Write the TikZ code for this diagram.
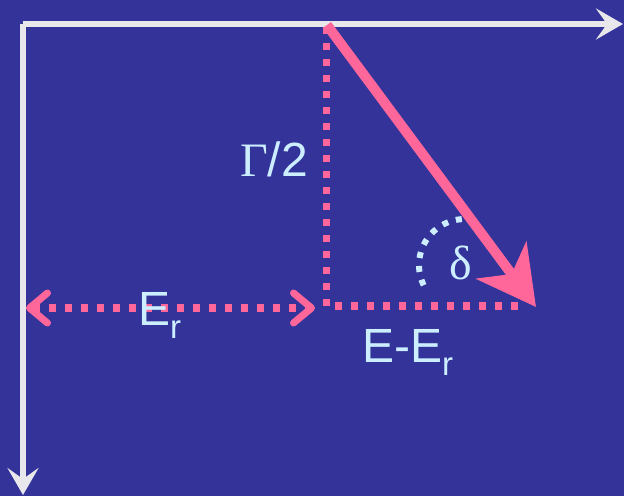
\documentclass[tikz,border=0pt]{standalone}
\usepackage{fontspec}
\setmainfont{Liberation Sans}
\newfontfamily\serifgr{Liberation Serif}
\usetikzlibrary{arrows.meta}
\definecolor{bgblue}{HTML}{333399}
\definecolor{pinkc}{HTML}{FF6699}
\definecolor{axisw}{HTML}{E8E8EC}
\definecolor{lblue}{HTML}{CCEEFF}
\tikzset{
  axisline/.style={draw=axisw, line width=5.5pt, -{Stealth[length=27pt,width=31pt,inset=11pt]}},
  dotline/.style={draw=pinkc, line width=7pt, line cap=butt, dash pattern=on 7pt off 9pt},
  chevtip/.tip={Straight Barb[length=18pt,width=30pt,round,line width=7pt]},
  bigarrow/.style={draw=pinkc, line width=10pt, -{Stealth[length=58pt,width=62pt,inset=17pt]}},
  lbl/.style={text=lblue, inner sep=0pt, font=\fontsize{48}{52}\selectfont},
  arcdots/.style={draw=lblue, line width=6pt, dash pattern=on 6pt off 8pt}
}
\newcommand{\subr}{\raisebox{-13pt}{\fontsize{33}{36}\selectfont r}}
\begin{document}
\begin{tikzpicture}[x=1pt,y=1pt]
\fill[bgblue] (0,0) rectangle (624,496);
\useasboundingbox (0,0) rectangle (624,496);
% axes
\coordinate (O) at (23,472);
\coordinate (Xend) at (623,472);
\coordinate (Yend) at (23,1);
\draw[axisline] (O) -- (Xend);
\draw[axisline] (O) -- (Yend);
% dotted right triangle
\coordinate (T) at (326,469);
\coordinate (C) at (326,190);
\coordinate (R) at (524,190);
\draw[dotline] (T) -- (C) -- (R);
% E_r double arrow
\coordinate (EL) at (26,188);
\coordinate (ER) at (315,188);
\draw[dotline, {chevtip}-{chevtip}] (EL) -- (ER);
% main arrow
\coordinate (P) at (327,471);
\coordinate (Q) at (536,189);
\draw[bigarrow] (P) -- (Q);
% angle arc
\coordinate (AC) at (465,231);
\draw[arcdots] ([shift={(94:46pt)}]AC) arc[start angle=94, end angle=216, radius=46pt];
% labels
\node[lbl, anchor=base west] (gam) at (240,319) {{\serifgr Γ}/2};
\node[lbl, anchor=base west] (er) at (138,171) {E\subr};
\node[lbl, anchor=base west] (eer) at (362,134) {E-E\subr};
\node[lbl, anchor=center] (del) at (461,233) {\serifgr δ};
\end{tikzpicture}
\end{document}
